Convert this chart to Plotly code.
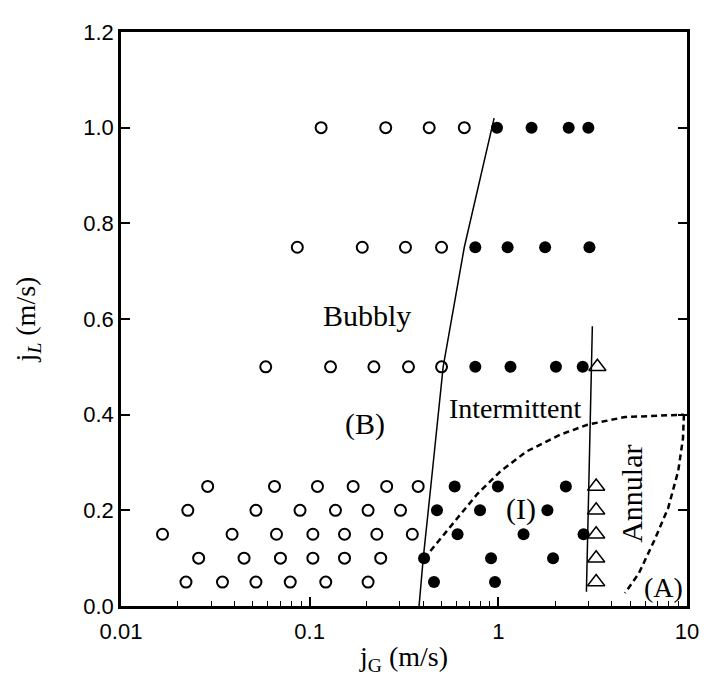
import plotly.graph_objects as go

# ---- data ----
# open circles (bubbly)
open_x = [0.115, 0.253, 0.43, 0.66,
          0.086, 0.19, 0.322, 0.50,
          0.0585, 0.129, 0.219, 0.334, 0.50,
          0.0288, 0.0651, 0.110, 0.170, 0.256, 0.376,
          0.0226, 0.0519, 0.0889, 0.137, 0.204, 0.303,
          0.0166, 0.0388, 0.0667, 0.104, 0.153, 0.227, 0.350,
          0.0258, 0.0449, 0.070, 0.104, 0.153, 0.238,
          0.0221, 0.0345, 0.0519, 0.0789, 0.1217, 0.204]
open_y = [1.0] * 4 + [0.75] * 4 + [0.5] * 5 + [0.25] * 6 + [0.2] * 6 + [0.15] * 7 + [0.1] * 6 + [0.05] * 6

# filled circles (intermittent)
fill_x = [0.984, 1.50, 2.36, 3.0,
          0.755, 1.12, 1.77, 3.04,
          0.755, 1.16, 2.02, 2.80,
          0.587, 0.995, 2.28,
          0.473, 0.80, 1.82,
          0.608, 1.36, 2.83,
          0.404, 0.915, 1.95,
          0.456, 0.96]
fill_y = [1.0] * 4 + [0.75] * 4 + [0.5] * 4 + [0.25] * 3 + [0.2] * 3 + [0.15] * 3 + [0.1] * 3 + [0.05] * 2

# open triangles (annular)
tri_x = [3.35, 3.3, 3.3, 3.3, 3.3, 3.3]
tri_y = [0.5, 0.25, 0.2, 0.15, 0.1, 0.05]

# bubbly / intermittent boundary (solid)
b1_x = [0.38, 0.40, 0.44, 0.51, 0.66, 0.95]
b1_y = [0.0, 0.1, 0.255, 0.5, 0.75, 1.02]

# intermittent / annular boundary (solid)
b2_x = [2.93, 3.15]
b2_y = [0.03, 0.585]

# model (I) boundary (dashed)
b3_x = [0.404, 0.52, 0.773, 1.03, 1.41, 2.12, 2.97, 4.69, 9.63]
b3_y = [0.099, 0.151, 0.234, 0.282, 0.323, 0.358, 0.379, 0.395, 0.40]

# model (A) boundary (dashed)
b4_x = [9.63, 9.52, 8.98, 7.95, 6.71, 5.55, 4.69]
b4_y = [0.40, 0.35, 0.282, 0.205, 0.137, 0.068, 0.027]

x_ticks = [0.01, 0.1, 1, 10]
x_tick_text = ["0.01", "0.1", "1", "10"]
x_minor = [m * d for d in (0.01, 0.1, 1) for m in range(2, 10)]
y_ticks = [0.0, 0.2, 0.4, 0.6, 0.8, 1.0, 1.2]

fig = go.Figure()

line_style = dict(color="black", width=1.5)
dash_style = dict(color="black", width=2.5, dash="6px,4px")

fig.add_trace(go.Scatter(x=b1_x, y=b1_y, mode="lines", line=line_style, hoverinfo="skip"))
fig.add_trace(go.Scatter(x=b2_x, y=b2_y, mode="lines", line=line_style, hoverinfo="skip"))
fig.add_trace(go.Scatter(x=b3_x, y=b3_y, mode="lines", line=dash_style, hoverinfo="skip"))
fig.add_trace(go.Scatter(x=b4_x, y=b4_y, mode="lines", line=dash_style, hoverinfo="skip"))

fig.add_trace(go.Scatter(x=open_x, y=open_y, mode="markers",
                         marker=dict(symbol="circle-open", size=11, color="black",
                                     line=dict(width=2, color="black"))))
fig.add_trace(go.Scatter(x=fill_x, y=fill_y, mode="markers",
                         marker=dict(symbol="circle", size=12, color="black")))
fig.add_trace(go.Scatter(x=tri_x, y=tri_y, mode="markers",
                         marker=dict(symbol="triangle-up-open", size=15, color="black",
                                     line=dict(width=1.5, color="black"))))

serif = "Liberation Serif, Times New Roman, serif"
ann = [
    dict(x=-0.696, y=0.607, text="Bubbly", size=30),
    dict(x=-0.706, y=0.381, text="(B)", size=30),
    dict(x=0.087, y=0.412, text="Intermittent", size=28),
    dict(x=0.118, y=0.203, text="(I)", size=30),
    dict(x=0.874, y=0.039, text="(A)", size=28),
]
for a in ann:
    fig.add_annotation(x=a["x"], y=a["y"], xref="x", yref="y", text=a["text"],
                       showarrow=False, font=dict(family=serif, size=a["size"], color="black"))
fig.add_annotation(x=0.702, y=0.234, xref="x", yref="y", text="Annular", textangle=-90,
                   showarrow=False, font=dict(family=serif, size=30, color="black"))

# page has an 8px body margin, so the figure is sized to fit the 711x682 window
fig.update_layout(
    width=703, height=674,
    margin=dict(l=113, r=15, t=18, b=76),
    plot_bgcolor="white", paper_bgcolor="white",
    showlegend=False,
    font=dict(family="Liberation Sans, Arial, sans-serif", size=22, color="black"),
)
fig.update_xaxes(
    type="log", range=[-2, 1],
    tickvals=x_ticks, ticktext=x_tick_text,
    ticks="inside", ticklen=9, tickwidth=1.5, tickcolor="black",
    minor=dict(tickvals=x_minor, ticks="inside", ticklen=5, tickwidth=1,
               tickcolor="black", showgrid=False),
    showline=True, linewidth=2.5, linecolor="black", mirror=True,
    showgrid=False, zeroline=False,
    ticklabelstandoff=4,
    title=dict(text="j<sub>G</sub> (m/s)", font=dict(family=serif, size=28), standoff=4),
)
fig.update_yaxes(
    range=[0, 1.2], tickvals=y_ticks, tickformat=".1f",
    ticks="inside", ticklen=9, tickwidth=1.5, tickcolor="black",
    showline=True, linewidth=2.5, linecolor="black", mirror="ticks",
    showgrid=False, zeroline=False,
    title=dict(text="j<sub><i>L</i></sub> (m/s)", font=dict(family=serif, size=28), standoff=40),
)

fig.write_html("out.html")
